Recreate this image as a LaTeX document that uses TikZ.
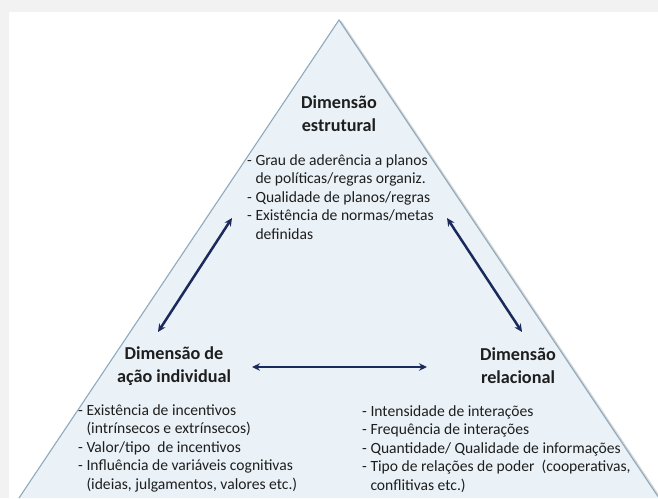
\documentclass[tikz,border=0pt]{standalone}
\usepackage{fontspec}
\setmainfont{Carlito}
\usetikzlibrary{arrows.meta}

\definecolor{panelgray}{HTML}{F2F2F2}
\definecolor{trifill}{HTML}{EAF2F8}
\definecolor{triline}{HTML}{8FA9BD}
\definecolor{navy}{HTML}{1B2A5C}
\definecolor{ink}{HTML}{1E1E1E}

\begin{document}
\begin{tikzpicture}
  [x=1pt,y=-1pt,
   dim/.style ={font=\fontsize{18.2}{23}\selectfont\bfseries,align=center,text=ink,inner sep=0pt},
   items/.style ={font=\fontsize{15.6}{18.5}\selectfont,align=left,text=ink,inner sep=0pt,anchor=north west},
   link/.style ={navy,line width=2.5pt,{Stealth[length=8pt,width=7.5pt]}-{Stealth[length=8pt,width=7.5pt]}}]
  \fill[panelgray] (0,0) rectangle (658,498);
  \useasboundingbox (0,0) rectangle (658,498);
  \fill[white] (9,12) rectangle (658,498);
  % triangle
  \begin{scope}
    \clip (9,12) rectangle (658,498);
    \draw[black!30,line width=2.5pt,opacity=.5] (340.5,21.5) -- (661,500);
    \fill[trifill] (339,20) -- (19,498) -- (659,498) -- cycle;
    \draw[triline,line width=1.1pt] (19,498) -- (339,20) -- (659,498);
  \end{scope}
  % dimensions
  \node[dim] (estr) at (339,114) {Dimensão\\estrutural};
  \node[dim] (acao) at (174,366) {Dimensão de\\ação individual};
  \node[dim] (rel) at (518,366) {Dimensão\\relacional};
  \node[items] (estrlist) at (247,154) {- Grau de aderência a planos\\\phantom{- }de políticas/regras organiz.\\- Qualidade de planos/regras\\- Existência de normas/metas\\\phantom{- }definidas};
  \node[items] (acaolist) at (78,404) {- Existência de incentivos\\\phantom{- }(intrínsecos e extrínsecos)\\- Valor/tipo\ \ de incentivos\\- Influência de variáveis cognitivas\\\phantom{- }(ideias, julgamentos, valores etc.)};
  \node[items] (rellist) at (362,405) {- Intensidade de interações\\- Frequência de interações\\- Quantidade/ Qualidade de informações\\- Tipo de relações de poder\ \ (cooperativas,\\\phantom{- }conflitivas etc.)};
  % arrows
  \coordinate (acao-up) at (158,332);
  \coordinate (estr-left) at (232,218);
  \coordinate (estr-right) at (447,218);
  \coordinate (rel-up) at (522,332);
  \coordinate (acao-right) at (252,367);
  \coordinate (rel-left) at (427,367);
  \draw[link] (acao-up) -- (estr-left);
  \draw[link] (estr-right) -- (rel-up);
  \draw[link] (acao-right) -- (rel-left);
\end{tikzpicture}
\end{document}
